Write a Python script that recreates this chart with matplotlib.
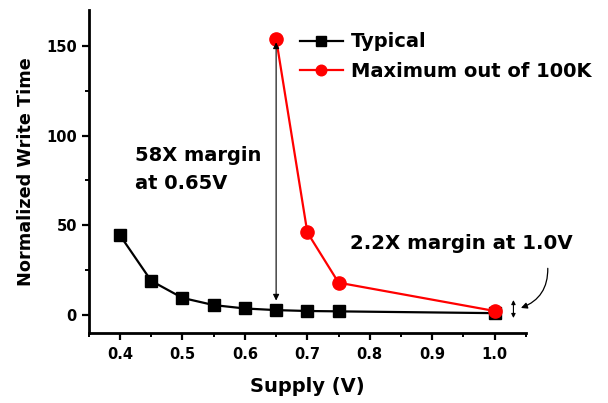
import matplotlib
matplotlib.use('Agg')
import matplotlib.pyplot as plt
from matplotlib.ticker import MultipleLocator

plt.rcParams['font.family'] = ['DejaVu Sans']
plt.rcParams['font.weight'] = 'bold'

# data --------------------------------------------------------------------------
supply_typ = [0.4, 0.45, 0.5, 0.55, 0.6, 0.65, 0.7, 0.75, 1.0]
time_typ = [44.4, 19.0, 9.5, 5.5, 3.6, 2.7, 2.2, 2.0, 1.0]
supply_max = [0.65, 0.7, 0.75, 1.0]
time_max = [154.0, 46.0, 18.0, 2.2]
# -------------------------------------------------------------------------------

fig = plt.figure(figsize=(6.08, 4.03), dpi=100)
ax = fig.add_axes([0.146, 0.174, 0.719, 0.801])

ax.plot(supply_typ, time_typ, 'k-', marker='s', ms=8.5, lw=1.6, label='Typical')
ax.plot(supply_max, time_max, '-', color='#ff0000', marker='o', ms=9.5, lw=1.6,
        label='Maximum out of 100K')

ax.set_xlim(0.35, 1.05)
ax.set_ylim(-10, 170)
ax.xaxis.set_major_locator(MultipleLocator(0.1))
ax.xaxis.set_minor_locator(MultipleLocator(0.05))
ax.yaxis.set_major_locator(MultipleLocator(50))
ax.yaxis.set_minor_locator(MultipleLocator(25))
ax.set_yticks([0, 50, 100, 150])
for s in ('top', 'right'):
    ax.spines[s].set_visible(False)
for s in ('left', 'bottom'):
    ax.spines[s].set_linewidth(2)
ax.tick_params(which='major', width=1.6, length=5, labelsize=10.5)
ax.tick_params(which='minor', width=1.4, length=3)
ax.tick_params(axis='x', pad=5)
for lab in ax.get_xticklabels() + ax.get_yticklabels():
    lab.set_fontweight('bold')

ax.set_xlabel('Supply (V)', fontsize=14, fontweight='bold', labelpad=11)
ax.set_ylabel('Normalized Write Time', fontsize=12.7, fontweight='bold', labelpad=8)

# margin arrows
ax.annotate('', xy=(0.65, 8.0), xytext=(0.65, 152.0),
            arrowprops=dict(arrowstyle='<|-|>', color='k', lw=0.8,
                            mutation_scale=9, shrinkA=0, shrinkB=0))
ax.annotate('', xy=(1.03, -1.7), xytext=(1.03, 8.3),
            arrowprops=dict(arrowstyle='<|-|>', color='k', lw=0.8,
                            mutation_scale=6, shrinkA=0, shrinkB=0),
            annotation_clip=False)
ax.annotate('', xy=(1.042, 3.9), xytext=(1.085, 26),
            arrowprops=dict(arrowstyle='-|>', color='k', lw=0.9, shrinkA=0, shrinkB=0,
                            mutation_scale=9, connectionstyle='arc3,rad=-0.35'),
            annotation_clip=False)

ax.text(0.424, 70, '58X margin\nat 0.65V', fontsize=14, fontweight='bold',
        linespacing=1.6, va='baseline')
ax.text(0.769, 36.5, '2.2X margin at 1.0V', fontsize=14.2, fontweight='bold',
        va='baseline')

ax.legend(loc='upper left', bbox_to_anchor=(0.432, 1.0), frameon=False,
          prop=dict(size=14, weight='bold'), handlelength=2.2,
          handletextpad=0.4, labelspacing=0.55, markerscale=0.8,
          borderaxespad=0.75)

fig.savefig('out.png', dpi=100)
